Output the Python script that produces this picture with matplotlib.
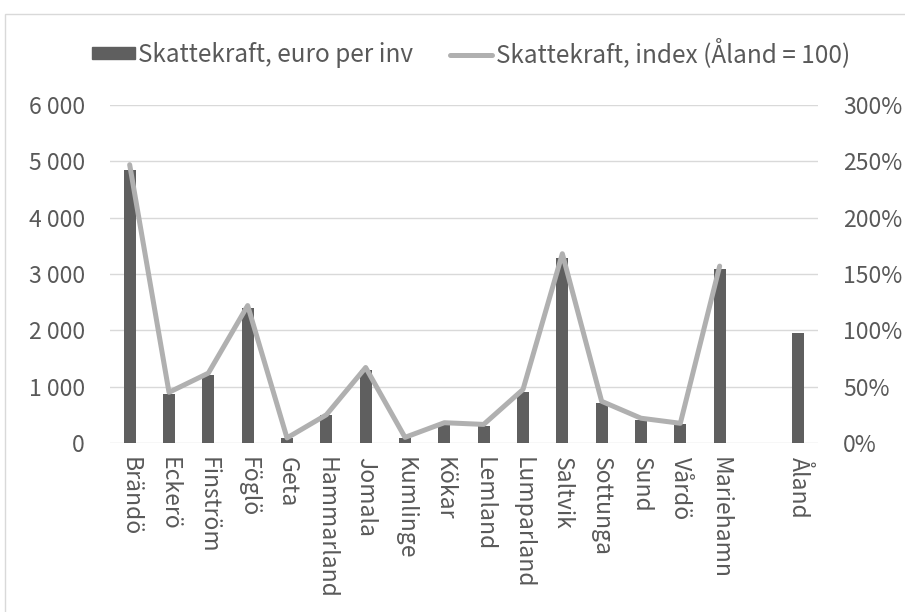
import matplotlib
matplotlib.use("Agg")
import matplotlib.pyplot as plt
import numpy as np
from matplotlib.patches import Rectangle
from matplotlib.lines import Line2D
from matplotlib.ticker import FuncFormatter

categories = ["Brändö", "Eckerö", "Finström", "Föglö", "Geta", "Hammarland", "Jomala",
              "Kumlinge", "Kökar", "Lemland", "Lumparland", "Saltvik", "Sottunga", "Sund",
              "Vårdö", "Mariehamn", "", "Åland"]
euro_per_inv = [4840, 870, 1200, 2390, 80, 490, 1300, 90, 315, 300, 910, 3280, 710, 400,
                330, 3090, np.nan, 1960]
index_pct = [247, 45, 62, 122, 4.5, 25, 67, 5, 18, 16.5, 47.5, 168, 37, 22, 17.5, 157,
             np.nan, np.nan]

plt.rcParams['font.family'] = ['Noto Sans CJK JP', 'DejaVu Sans']
TXT = '#595959'
fs = 16.5

fig = plt.figure(figsize=(9.05, 6.12), dpi=100)
fig.patches.append(Rectangle((5/905, -0.1), 1.2, (612-14)/612 + 0.1, transform=fig.transFigure,
                             fill=False, edgecolor='#D9D9D9', linewidth=1.0))

ax = fig.add_axes([110/905, (612-443)/612, (818-110)/905, (443-105)/612])
x = np.arange(len(categories))
ax.bar(x, euro_per_inv, width=0.3, color='#5F5F5F', zorder=2)
ax.set_xlim(-0.5, len(categories) - 0.5)
ax.set_ylim(0, 6000)
ax.set_yticks(np.arange(0, 6001, 1000))
ax.yaxis.set_major_formatter(FuncFormatter(lambda v, p: f"{int(v):,}".replace(",", " ")))
ax.grid(axis='y', color='#D9D9D9', linewidth=1.0, zorder=0)
ax.set_axisbelow(True)
for s in ax.spines.values():
    s.set_visible(False)
ax.tick_params(axis='y', length=0, pad=18, labelsize=fs, labelcolor=TXT)
ax.set_xticks(x)
ax.set_xticklabels(categories, rotation=270, ha='center', va='top', fontsize=fs, color=TXT)
ax.tick_params(axis='x', length=0, pad=10)

ax2 = ax.twinx()
ax2.plot(x, index_pct, color='#B0B0B0', linewidth=3.6, solid_joinstyle='round',
         solid_capstyle='round', zorder=3)
ax2.set_ylim(0, 300)
ax2.set_yticks(np.arange(0, 301, 50))
ax2.yaxis.set_major_formatter(FuncFormatter(lambda v, p: f"{int(v)}%"))
for s in ax2.spines.values():
    s.set_visible(False)
ax2.tick_params(axis='y', length=0, pad=18, labelsize=fs, labelcolor=TXT)

handles = [Rectangle((0, 0), 1, 1, color='#5F5F5F'),
           Line2D([0], [0], color='#B0B0B0', linewidth=3.6, solid_capstyle='round')]
labels = ["Skattekraft, euro per inv", "Skattekraft, index (Åland = 100)"]
fig.legend(handles, labels, loc='center', bbox_to_anchor=(471/905, (612-53)/612), ncol=2,
           frameon=False, fontsize=17.5, labelcolor=TXT, handlelength=1.75, handleheight=0.4,
           handletextpad=0.15, columnspacing=1.5)

fig.savefig("out.png", dpi=100)
